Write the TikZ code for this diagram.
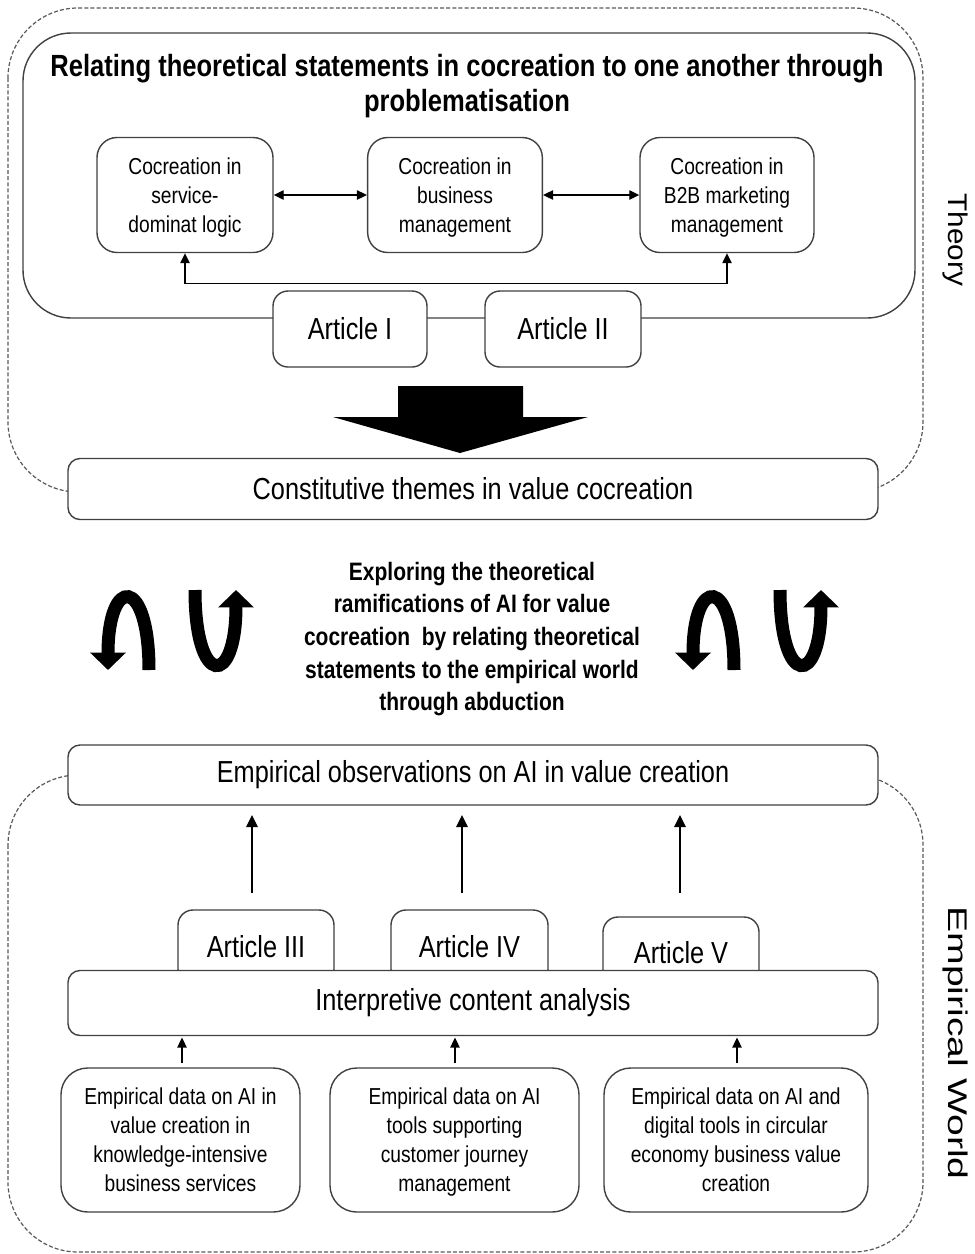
\documentclass[tikz,border=0pt]{standalone}
\usepackage{fontspec}
\setmainfont[FakeStretch=0.833]{Liberation Sans}
\newfontfamily\sidefont[FakeStretch=1.1]{Liberation Sans}
\newfontfamily\sidefontlong[FakeStretch=1.45]{Liberation Sans}
\usetikzlibrary{arrows.meta}

\tikzset{
  box/.style={draw=black!75, line width=1.05pt, fill=white, rounded corners=15pt,
              align=center, inner sep=0pt},
  smalltext/.style={font=\fontsize{17.3pt}{21.75pt}\selectfont, text depth=0pt},
  bigtext/.style={font=\fontsize{22.8pt}{26pt}\selectfont},
  zone/.style={draw=black!65, line width=0.9pt, dash pattern=on 3pt off 1.6pt,
               rounded corners=52.5pt},
  link/.style={line width=1pt, -{Triangle[width=7pt,length=7.5pt]}},
  twoway/.style={line width=1pt, {Triangle[width=7pt,length=7.5pt]}-{Triangle[width=7pt,length=7.5pt]}},
  uparrow/.style={line width=1.5pt, -{Triangle[width=8.5pt,length=9pt]}},
  curl/.style={line width=9.75pt, -{Triangle[width=26pt,length=13pt]}},
}

\begin{document}
\begin{tikzpicture}[x=0.75pt,y=-0.75pt]
\useasboundingbox (0,0) rectangle (975,1254);

% dashed zones for theory and empirical world
\draw[zone] (8,8) rectangle (923,492);
\draw[zone] (8,775) rectangle (923,1252);

% problematisation frame
\draw[draw=black!75, line width=1.05pt, rounded corners=36pt] (23,33) rectangle (915,318);
\node[font=\bfseries\fontsize{23pt}{26.25pt}\selectfont, align=center] (title) at (467,86)
  {Relating theoretical statements in cocreation to one another through\\problematisation};

% three cocreation streams
\node[box, smalltext, minimum width=132pt, minimum height=86.25pt] (sdl) at (185,195)
  {Cocreation in\\service-\\dominat logic};
\node[box, smalltext, minimum width=131pt, minimum height=86.25pt] (bm) at (455,195)
  {Cocreation in\\business\\management};
\node[box, smalltext, minimum width=130.5pt, minimum height=86.25pt] (b2b) at (727,195)
  {Cocreation in\\B2B marketing\\management};
\draw[twoway] (sdl.east) -- (bm.west);
\draw[twoway] (bm.east) -- (b2b.west);
\draw[twoway] (sdl.south) -- ++(0,30) -| (b2b.south);

% theoretical articles
\node[box, bigtext, rounded corners=11.25pt, minimum width=115.5pt, minimum height=57pt] (a1) at (350,329) {Article I};
\node[box, bigtext, rounded corners=11.25pt, minimum width=117pt, minimum height=57pt] (a2) at (563,329) {Article II};

% block arrow towards the themes
\fill[black] (398,386) -- (523,386) -- (523,417) -- (588,417) -- (460,453)
  -- (333,417) -- (398,417) -- cycle;

\node[box, bigtext, rounded corners=9pt, minimum width=607.5pt, minimum height=45.75pt] (themes) at (473,489)
  {Constitutive themes in value cocreation};

% abduction
\node[font=\bfseries\fontsize{18.9pt}{24.4pt}\selectfont, align=center] (abd) at (472,639)
  {Exploring the theoretical\\ramifications of AI for value\\cocreation\ \ by relating theoretical\\statements to the empirical world\\through abduction};

\foreach \dx in {0,585} {
  \begin{scope}[shift={(\dx,0)}]
    \draw[curl] (149,670) .. controls (149,575) and (108,575) .. (108,670);
    \draw[curl] (195,590) .. controls (195,688) and (236,688) .. (236,590);
  \end{scope}
}

% empirical side
\node[box, bigtext, rounded corners=9pt, minimum width=607.5pt, minimum height=45pt] (obs) at (473,775)
  {Empirical observations on AI in value creation};

\node[box, bigtext, rounded corners=11.25pt, minimum width=117pt, minimum height=55.5pt] (a3) at (256,947) {Article III};
\node[box, bigtext, rounded corners=11.25pt, minimum width=117.75pt, minimum height=55.5pt] (a4) at (469.5,947) {Article IV};
\node[box, bigtext, rounded corners=11.25pt, minimum width=117pt, minimum height=54pt] (a5) at (681,953) {Article V};

\coordinate (f3) at (252,893); \coordinate (t3) at (252,815);
\coordinate (f4) at (462,893); \coordinate (t4) at (462,815);
\coordinate (f5) at (680,893); \coordinate (t5) at (680,815);
\draw[uparrow] (f3) -- (t3);
\draw[uparrow] (f4) -- (t4);
\draw[uparrow] (f5) -- (t5);

\node[box, bigtext, rounded corners=9pt, minimum width=607.5pt, minimum height=48.75pt] (ica) at (473,1003)
  {Interpretive content analysis};

\node[box, smalltext, rounded corners=20pt, minimum width=179.25pt, minimum height=108pt] (d1) at (180.5,1140)
  {Empirical data on AI in\\value creation in\\knowledge-intensive\\business services};
\node[box, smalltext, rounded corners=20pt, minimum width=186.75pt, minimum height=108pt] (d2) at (454.5,1140)
  {Empirical data on AI\\tools supporting\\customer journey\\management};
\node[box, smalltext, rounded corners=20pt, minimum width=198pt, minimum height=108pt] (d3) at (736,1140)
  {Empirical data on AI and\\digital tools in circular\\economy business value\\creation};

\draw[link, shorten <=3pt, shorten >=1pt] (d1.north -| 182,0) -- (ica.south -| 182,0);
\draw[link, shorten <=3pt, shorten >=1pt] (d2.north -| 455,0) -- (ica.south -| 455,0);
\draw[link, shorten <=3pt, shorten >=1pt] (d3.north -| 737,0) -- (ica.south -| 737,0);

% side labels
\node[rotate=-90, font=\sidefont\fontsize{20.25pt}{22pt}\selectfont] (lt) at (955,240) {Theory};
\node[rotate=-90, font=\sidefontlong\fontsize{20.25pt}{22pt}\selectfont] (le) at (955,1043) {Empirical World};
\end{tikzpicture}
\end{document}
